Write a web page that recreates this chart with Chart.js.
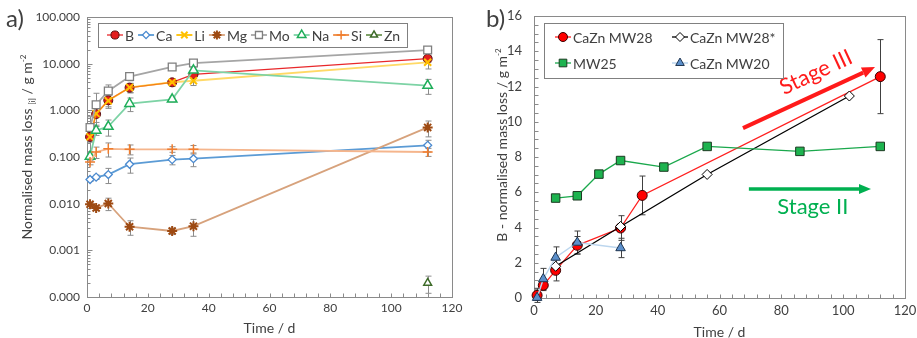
<!DOCTYPE html>
<html>
<head>
<meta charset="utf-8">
<script src="https://cdn.jsdelivr.net/npm/chart.js@4.4.1/dist/chart.umd.min.js"></script>
<style>
  html, body { margin: 0; padding: 0; background: #fff; overflow: hidden; }
  #wrap { position: relative; width: 917px; height: 338px; }
  #chartA { position: absolute; left: 0; top: 0; }
  #chartB { position: absolute; left: 460px; top: 0; }
</style>
</head>
<body>
<div id="wrap">
  <canvas id="chartA" width="480" height="338"></canvas>
  <canvas id="chartB" width="457" height="338"></canvas>
</div>
<script>
// ---- panel a: element mass loss (log axis) ----
const daysA = [1, 3, 7, 14, 28, 35, 112];
const boron = [0.27, 0.83, 1.64, 3.06, 3.98, 5.9, 12.8];
const boronErr = [0.06, 0.35, 0.45, 0.7, 0.7, 1.0, 2.0];
const calcium = [0.033, 0.037, 0.042, 0.07, 0.088, 0.092, 0.178];
const calciumErr = [0.003, 0.004, 0.015, 0.025, 0.02, 0.03, 0.05];
const lithium = [0.27, 0.85, 1.6, 3.1, 4.0, 4.3, 10.7];
const lithiumErr = [0.06, 0.3, 0.5, 0.7, 0.7, 0.9, 3.0];
const magnesium = [0.0097, 0.0081, 0.0101, 0.0032, 0.0026, 0.0033, 0.43];
const magnesiumErr = [0.001, 0.001, 0.003, 0.0011, 0.0004, 0.0013, 0.16];
const molybdenum = [0.43, 1.32, 2.6, 5.3, 8.5, 10.3, 19.6];
const molybdenumErr = [0.3, 1.0, 0.9, 1.0, 0.8, 1.0, 2.5];
const sodium = [0.103, 0.37, 0.45, 1.39, 1.72, 7.2, 3.4];
const sodiumErr = [0.02, 0.08, 0.17, 0.45, 0.2, 1.0, 1.2];
const silicon = [0.078, 0.128, 0.15, 0.146, 0.146, 0.146, 0.128];
const siliconErr = [0.01, 0.035, 0.05, 0.035, 0.02, 0.03, 0.025];
const daysZn = [112];
const zinc = [0.0002];
const zincErr = [0.00008];
const logTicksA = [0.0001, 0.001, 0.01, 0.1, 1, 10, 100];

// ---- panel b: B-normalised mass loss ----
const daysMW28 = [1, 3, 7, 14, 28, 35, 112];
const mw28 = [0.15, 0.72, 1.57, 2.99, 3.97, 5.82, 12.56];
const mw28Err = [0.4, 0.3, 0.6, 0.5, 0.7, 1.1, 2.1];
const daysMW28s = [7, 28, 56, 102];
const mw28s = [1.8, 4.06, 7.01, 11.46];
const daysMW25 = [7, 14, 21, 28, 42, 56, 86, 112];
const mw25 = [5.67, 5.8, 7.03, 7.8, 7.43, 8.6, 8.32, 8.6];
const daysMW20 = [1, 3, 7, 14, 28];
const mw20 = [0.02, 1.08, 2.3, 3.15, 2.84];
const mw20Err = [0.1, 0.6, 0.6, 0.65, 0.55];

const FONT = 'Lato, "Open Sans", sans-serif';
const TEXT = '#404040';
Chart.defaults.font.family = FONT;
Chart.defaults.color = TEXT;

function series(label, xs, ys, errs, style) {
  return Object.assign({
    label: label,
    data: xs.map((x, i) => ({ x: x, y: ys[i] })),
    errors: errs,
    clip: false,
    tension: 0,
    pointHoverRadius: style.pointRadius
  }, style);
}

function marker(ctx, ds, x, y, scale) {
  ctx.fillStyle = ds.pointBackgroundColor;
  ctx.strokeStyle = ds.pointBorderColor;
  ctx.lineWidth = ds.pointBorderWidth;
  Chart.helpers.drawPoint(ctx, {
    pointStyle: ds.pointStyle, radius: ds.pointRadius * scale,
    rotation: 0, borderWidth: ds.pointBorderWidth
  }, x, y);
}

function richText(ctx, parts, cx, cy) {
  ctx.save();
  ctx.translate(cx, cy);
  ctx.rotate(-Math.PI / 2);
  ctx.fillStyle = TEXT;
  ctx.textBaseline = 'alphabetic';
  const widths = parts.map(p => { ctx.font = p.size + 'px ' + FONT; return ctx.measureText(p.t).width; });
  let x = -widths.reduce((a, b) => a + b, 0) / 2;
  parts.forEach((p, i) => {
    ctx.font = p.size + 'px ' + FONT;
    ctx.fillText(p.t, x, 5 + p.dy);
    x += widths[i];
  });
  ctx.restore();
}

function arrow(ctx, x1, y1, x2, y2, color, w, head) {
  const ang = Math.atan2(y2 - y1, x2 - x1);
  const bx = x2 - head * Math.cos(ang), by = y2 - head * Math.sin(ang);
  const hw = head * 0.42;
  ctx.strokeStyle = color; ctx.fillStyle = color; ctx.lineWidth = w;
  ctx.beginPath(); ctx.moveTo(x1, y1); ctx.lineTo(bx, by); ctx.stroke();
  ctx.beginPath();
  ctx.moveTo(x2, y2);
  ctx.lineTo(bx + hw * Math.sin(ang), by - hw * Math.cos(ang));
  ctx.lineTo(bx - hw * Math.sin(ang), by + hw * Math.cos(ang));
  ctx.closePath(); ctx.fill();
}

// fixed axis box sizes, no extra label padding pushing the plot area
function fixSize(w, h) {
  return s => {
    if (w) s.width = w;
    if (h) s.height = h;
    s.paddingTop = 0; s.paddingBottom = 0; s.paddingLeft = 0; s.paddingRight = 0;
  };
}

// frame, inner minor ticks, error bars, legend box, titles
function decor(cfg) {
  return {
    id: 'decor',
    beforeDatasetsDraw(chart) {
      const { ctx, chartArea: a } = chart;
      const xs = chart.scales.x, ys = chart.scales.y;
      const L = Math.round(a.left) + 0.5, R = Math.round(a.right) + 0.5;
      const T = Math.round(a.top) + 0.5, B = Math.round(a.bottom) + 0.5;
      ctx.save();
      ctx.strokeStyle = '#8a8a8a';
      ctx.lineWidth = 1;
      ctx.strokeRect(L, T, R - L, B - T);
      ctx.beginPath();
      for (let v = xs.min; v <= xs.max + 1e-9; v += cfg.xMinor) {
        const px = Math.round(xs.getPixelForValue(v)) + 0.5;
        ctx.moveTo(px, B); ctx.lineTo(px, B - 4);
      }
      if (cfg.yLog) {
        const d0 = Math.round(Math.log10(ys.min)), d1 = Math.round(Math.log10(ys.max));
        for (let d = d0; d < d1; d++) {
          for (let k = 1; k < 10; k++) {
            const py = Math.round(ys.getPixelForValue(k * Math.pow(10, d))) + 0.5;
            ctx.moveTo(L, py); ctx.lineTo(L + (k === 1 ? 5 : 3), py);
          }
        }
      } else {
        for (let v = ys.min; v <= ys.max + 1e-9; v += cfg.yMinor) {
          const py = Math.round(ys.getPixelForValue(v)) + 0.5;
          ctx.moveTo(L, py); ctx.lineTo(L + 4, py);
        }
      }
      ctx.stroke();

      ctx.strokeStyle = cfg.errColor;
      ctx.lineWidth = 1;
      chart.data.datasets.forEach(ds => {
        if (!ds.errors) return;
        ds.data.forEach((p, j) => {
          const e = ds.errors[j];
          if (!e) return;
          const lo = cfg.yLog ? Math.max(p.y - e, p.y * 0.2) : p.y - e;
          const px = Math.round(xs.getPixelForValue(p.x)) + 0.5;
          const y1 = ys.getPixelForValue(p.y + e), y2 = ys.getPixelForValue(lo);
          ctx.beginPath();
          ctx.moveTo(px, y1); ctx.lineTo(px, y2);
          ctx.moveTo(px - 3, y1); ctx.lineTo(px + 3, y1);
          ctx.moveTo(px - 3, y2); ctx.lineTo(px + 3, y2);
          ctx.stroke();
        });
      });
      ctx.restore();
    },
    afterDatasetsDraw(chart) {
      if (!cfg.notes) return;
      const { ctx } = chart;
      const xs = chart.scales.x, ys = chart.scales.y;
      ctx.save();
      cfg.notes.forEach(n => {
        arrow(ctx, xs.getPixelForValue(n.from[0]), ys.getPixelForValue(n.from[1]),
          xs.getPixelForValue(n.to[0]), ys.getPixelForValue(n.to[1]), n.color, n.width, n.head);
        ctx.save();
        ctx.translate(xs.getPixelForValue(n.at[0]), ys.getPixelForValue(n.at[1]));
        ctx.rotate(n.angle * Math.PI / 180);
        ctx.font = '22px ' + FONT;
        ctx.fillStyle = n.color;
        ctx.textAlign = 'center';
        ctx.textBaseline = 'middle';
        ctx.fillText(n.text, 0, 0);
        ctx.restore();
      });
      ctx.restore();
    },
    afterDraw(chart) {
      const { ctx, chartArea: a } = chart;
      const dss = chart.data.datasets;
      const lg = cfg.legend;
      ctx.save();
      ctx.font = lg.size + 'px ' + FONT;
      const left = a.left + lg.dx, top = a.top + lg.dy;
      let items = [], w, h;
      if (lg.cols) {
        dss.forEach((ds, i) => items.push({ ds: ds, x: left + lg.cols[i % lg.cols.length], y: top + lg.padT + lg.rowH * (Math.floor(i / lg.cols.length) + 0.5) }));
        w = lg.width;
        h = lg.rowH * Math.ceil(dss.length / lg.cols.length) + lg.padT + lg.padB;
      } else {
        let x = left + lg.padL;
        dss.forEach(ds => {
          items.push({ ds: ds, x: x, y: top + lg.rowH / 2 });
          x += 18 + ctx.measureText(ds.label).width + lg.gap;
        });
        w = x - lg.gap + lg.padR - left;
        h = lg.rowH;
      }
      ctx.fillStyle = '#fff';
      ctx.fillRect(Math.round(left) + 0.5, Math.round(top) + 0.5, Math.round(w), Math.round(h));
      ctx.strokeStyle = '#808080';
      ctx.lineWidth = 1;
      ctx.strokeRect(Math.round(left) + 0.5, Math.round(top) + 0.5, Math.round(w), Math.round(h));
      items.forEach(it => {
        const ds = it.ds;
        ctx.strokeStyle = ds.legendLine || ds.borderColor;
        ctx.lineWidth = ds.borderWidth;
        ctx.beginPath(); ctx.moveTo(it.x, it.y); ctx.lineTo(it.x + 16, it.y); ctx.stroke();
        marker(ctx, ds, it.x + 8, it.y, 0.9);
        ctx.fillStyle = TEXT;
        ctx.font = lg.size + 'px ' + FONT;
        ctx.textBaseline = 'middle';
        ctx.fillText(ds.label, it.x + 18, it.y + 1);
      });

      // panel letter, axis titles
      ctx.fillStyle = TEXT;
      ctx.textBaseline = 'middle';
      ctx.font = '24px ' + FONT;
      ctx.fillText(cfg.panel.text, cfg.panel.x, cfg.panel.y);
      ctx.font = '14px ' + FONT;
      ctx.textAlign = 'center';
      ctx.fillText('Time / d', (a.left + a.right) / 2, a.bottom + cfg.xTitleDy);
      ctx.restore();
      richText(ctx, cfg.yTitle, cfg.yTitleX, cfg.yTitleY);
    }
  };
}

const noGrid = { display: false, drawTicks: false, tickLength: 0 };

const axisX = (size, pad, height) => ({
  type: 'linear', min: 0, max: 120,
  grid: noGrid, border: { display: false },
  afterFit: fixSize(0, height),
  ticks: { stepSize: 20, font: { size: size }, color: TEXT, padding: pad, maxRotation: 0 }
});

// ---- chart a ----
const dsA = [
  series('B', daysA, boron, boronErr, { order: 8, borderColor: '#e8282b', borderWidth: 1.3, pointStyle: 'circle', pointRadius: 4.5, pointBackgroundColor: '#e31e1e', pointBorderColor: '#5a1010', pointBorderWidth: 1 }),
  series('Ca', daysA, calcium, calciumErr, { order: 7, borderColor: '#5b9bd5', borderWidth: 1.8, pointStyle: 'rectRot', pointRadius: 4, pointBackgroundColor: '#fff', pointBorderColor: '#4a8ad0', pointBorderWidth: 1.3 }),
  series('Li', daysA, lithium, lithiumErr, { order: 6, borderColor: 'rgba(255,192,0,0.6)', legendLine: '#ffc000', borderWidth: 1.8, pointStyle: 'crossRot', pointRadius: 5, pointBackgroundColor: '#ffc000', pointBorderColor: '#ffc000', pointBorderWidth: 2 }),
  series('Mg', daysA, magnesium, magnesiumErr, { order: 5, borderColor: '#d7a27c', borderWidth: 1.8, pointStyle: 'star', pointRadius: 5, pointBackgroundColor: '#9e4a12', pointBorderColor: '#9e4a12', pointBorderWidth: 2 }),
  series('Mo', daysA, molybdenum, molybdenumErr, { order: 4, borderColor: '#a5a5a5', borderWidth: 1.8, pointStyle: 'rect', pointRadius: 5.5, pointBackgroundColor: '#fff', pointBorderColor: '#7f7f7f', pointBorderWidth: 1.3 }),
  series('Na', daysA, sodium, sodiumErr, { order: 3, borderColor: '#7dd3a5', borderWidth: 1.8, pointStyle: 'triangle', pointRadius: 5.5, pointBackgroundColor: '#fff', pointBorderColor: '#1fae5a', pointBorderWidth: 1.5 }),
  series('Si', daysA, silicon, siliconErr, { order: 2, borderColor: '#f5b58c', legendLine: '#f08a40', borderWidth: 1.8, pointStyle: 'cross', pointRadius: 5, pointBackgroundColor: '#f07d2e', pointBorderColor: '#f07d2e', pointBorderWidth: 1.5 }),
  series('Zn', daysZn, zinc, zincErr, { order: 1, borderColor: '#548235', borderWidth: 1.5, pointStyle: 'triangle', pointRadius: 4.5, pointBackgroundColor: '#fff', pointBorderColor: '#3d6b28', pointBorderWidth: 1.5 })
];

new Chart(document.getElementById('chartA'), {
  type: 'line',
  data: { datasets: dsA },
  options: {
    responsive: false, animation: false, events: [],
    layout: { padding: { left: 0, right: 28, top: 17, bottom: 0 } },
    plugins: { legend: { display: false }, tooltip: { enabled: false } },
    scales: {
      x: axisX(12, 4, 41),
      y: {
        type: 'logarithmic', min: 0.0001, max: 100,
        grid: noGrid, border: { display: false },
        afterBuildTicks: s => { s.ticks = logTicksA.map(v => ({ value: v })); },
        afterFit: fixSize(87, 0),
        ticks: { autoSkip: false, font: { size: 12 }, color: TEXT, padding: 7, callback: v => Number(v).toFixed(3) }
      }
    }
  },
  plugins: [decor({
    xMinor: 4, yLog: true, errColor: '#8c8c8c',
    legend: { dx: 11, dy: 6, padL: 9, padR: 7, gap: 4, rowH: 24, size: 14 },
    panel: { text: 'a)', x: 6, y: 19 },
    xTitleDy: 31,
    yTitle: [
      { t: 'Normalised mass loss ', size: 14, dy: 0 },
      { t: '[i]', size: 8, dy: 3 },
      { t: ' / g m', size: 14, dy: 0 },
      { t: '-2', size: 8, dy: -6 }
    ],
    yTitleX: 27, yTitleY: 147
  })]
});

// ---- chart b ----
const dsB = [
  series('CaZn MW28', daysMW28, mw28, mw28Err, { order: 4, borderColor: '#ff1f1f', borderWidth: 1.3, pointStyle: 'circle', pointRadius: 5, pointBackgroundColor: '#ff0000', pointBorderColor: '#3a0000', pointBorderWidth: 1 }),
  series('CaZn MW28*', daysMW28s, mw28s, null, { order: 3, borderColor: '#000', borderWidth: 1.3, pointStyle: 'rectRot', pointRadius: 5, pointBackgroundColor: '#fff', pointBorderColor: '#000', pointBorderWidth: 1 }),
  series('MW25', daysMW25, mw25, null, { order: 2, borderColor: '#1aa84c', borderWidth: 1.3, pointStyle: 'rect', pointRadius: 6, pointBackgroundColor: '#1db34f', pointBorderColor: '#1c3a22', pointBorderWidth: 1 }),
  series('CaZn MW20', daysMW20, mw20, mw20Err, { order: 1, borderColor: '#bcd6ee', borderWidth: 1.5, pointStyle: 'triangle', pointRadius: 5.5, pointBackgroundColor: '#5b8fcb', pointBorderColor: '#1f3550', pointBorderWidth: 1 })
];

new Chart(document.getElementById('chartB'), {
  type: 'line',
  data: { datasets: dsB },
  options: {
    responsive: false, animation: false, events: [],
    layout: { padding: { left: 0, right: 12, top: 16, bottom: 0 } },
    plugins: { legend: { display: false }, tooltip: { enabled: false } },
    scales: {
      x: axisX(13, 5, 40),
      y: {
        type: 'linear', min: 0, max: 16,
        grid: noGrid, border: { display: false },
        afterFit: fixSize(74, 0),
        ticks: { stepSize: 2, font: { size: 13 }, color: TEXT, padding: 12 }
      }
    }
  },
  plugins: [decor({
    xMinor: 4, yMinor: 0.5, yLog: false, errColor: '#404040',
    legend: { dx: 10, dy: 7, cols: [11, 128], rowH: 26, padT: 1, padB: 2, width: 239, size: 14 },
    panel: { text: 'b)', x: 26, y: 19 },
    xTitleDy: 34,
    yTitle: [
      { t: 'B - normalised mass loss / g m', size: 14, dy: 0 },
      { t: '-2', size: 8, dy: -6 }
    ],
    yTitleX: 42, yTitleY: 145,
    notes: [
      { text: 'Stage III', color: '#ff1a1a', from: [67.6, 9.64], to: [110.3, 13.1], at: [91.2, 12.8], angle: -25, width: 4, head: 13 },
      { text: 'Stage II', color: '#00b050', from: [69.5, 6.18], to: [109, 6.18], at: [90.2, 5.15], angle: 0, width: 3.5, head: 12 }
    ]
  })]
});
</script>
</body>
</html>
